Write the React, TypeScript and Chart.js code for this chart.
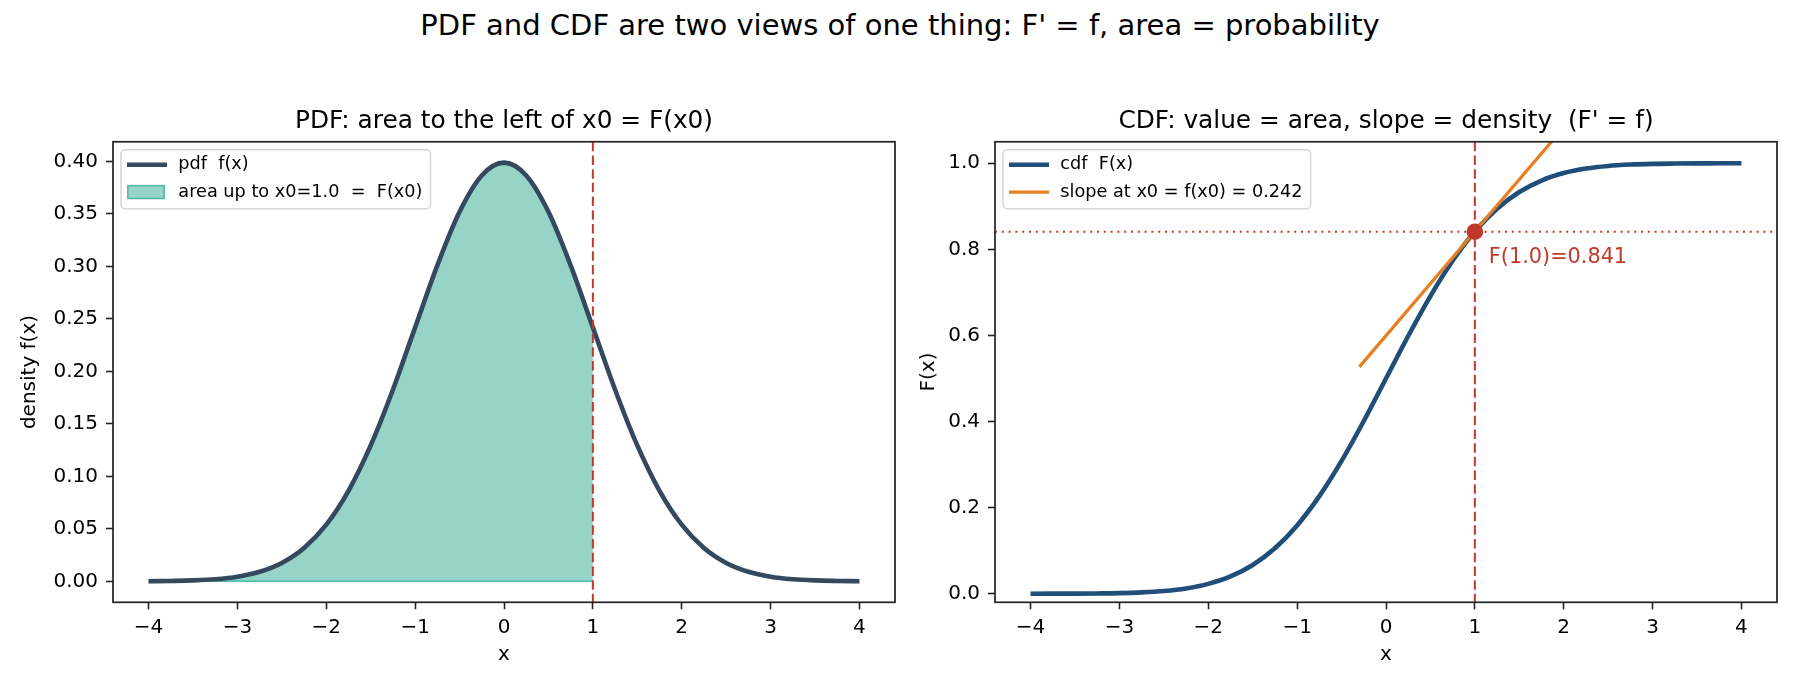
import React, { useEffect, useRef } from 'react';
import { Chart, registerables } from 'chart.js';

Chart.register(...registerables);

const FAMILY = '"DejaVu Sans", "Liberation Sans", sans-serif';

// ---------- data ----------
const SUPTITLE = "PDF and CDF are two views of one thing: F' = f, area = probability";
const PDF_TITLE = 'PDF: area to the left of x0 = F(x0)';
const CDF_TITLE = "CDF: value = area, slope = density  (F' = f)";

const X_GRID = [
  -4, -3.75, -3.5, -3.25, -3, -2.75, -2.5, -2.25, -2, -1.75, -1.5, -1.25, -1, -0.75, -0.5, -0.25,
  0, 0.25, 0.5, 0.75, 1, 1.25, 1.5, 1.75, 2, 2.25, 2.5, 2.75, 3, 3.25, 3.5, 3.75, 4,
];
const PDF_VALUES = [
  0.0001, 0.0004, 0.0009, 0.002, 0.0044, 0.0091, 0.0175, 0.0317, 0.054, 0.0863, 0.1295, 0.1826,
  0.242, 0.3011, 0.3521, 0.3867, 0.3989, 0.3867, 0.3521, 0.3011, 0.242, 0.1826, 0.1295, 0.0863,
  0.054, 0.0317, 0.0175, 0.0091, 0.0044, 0.002, 0.0009, 0.0004, 0.0001,
];
const CDF_VALUES = [
  0.0, 0.0001, 0.0002, 0.0006, 0.0013, 0.003, 0.0062, 0.0122, 0.0228, 0.0401, 0.0668, 0.1056,
  0.1587, 0.2266, 0.3085, 0.4013, 0.5, 0.5987, 0.6915, 0.7734, 0.8413, 0.8944, 0.9332, 0.9599,
  0.9772, 0.9878, 0.9938, 0.997, 0.9987, 0.9994, 0.9998, 0.9999, 1.0,
];
const X0 = 1.0;
const F_AT_X0 = 0.841;
const TANGENT_X = [-0.3, 2.3];
const TANGENT_Y = [0.527, 1.156];

const X_TICKS = [-4, -3, -2, -1, 0, 1, 2, 3, 4];
const PDF_Y_TICKS = [0, 0.05, 0.1, 0.15, 0.2, 0.25, 0.3, 0.35, 0.4];
const CDF_Y_TICKS = [0, 0.2, 0.4, 0.6, 0.8, 1.0];

const X_RANGE = [-4.4, 4.4];
const PDF_Y_RANGE = [-0.01995, 0.41882];
const CDF_Y_RANGE = [-0.02, 1.05];

const PDF_LEGEND = ['pdf  f(x)', 'area up to x0=1.0  =  F(x0)'];
const CDF_LEGEND = ['cdf  F(x)', 'slope at x0 = f(x0) = 0.242'];
const ANNOTATION = 'F(1.0)=0.841';

// ---------- styles ----------
const C_PDF = '#34495e';
const C_CDF = '#1f4e79';
const C_FILL = 'rgba(22,160,133,0.45)';
const C_FILL_EDGE = 'rgba(22,160,133,0.65)';
const C_RED = '#c0392b';
const C_ORANGE = '#e67e22';
const TICK_SIZE = 20;
const LEGEND_SIZE = 17.7;
const ANNOT_SIZE = 20.8;

function fmtX(v: number) {
  return v < 0 ? '\u2212' + Math.abs(v) : String(v);
}

function xScale() {
  return {
    type: 'linear',
    min: X_RANGE[0],
    max: X_RANGE[1],
    afterBuildTicks: (s: any) => {
      s.ticks = X_TICKS.map((v) => ({ value: v }));
    },
    afterFit: (s: any) => {
      s.height = 87.7;
    },
    ticks: {
      callback: (v: any) => fmtX(Number(v)),
      font: { family: FAMILY, size: TICK_SIZE },
      color: '#000',
      padding: 6,
      autoSkip: false,
      maxRotation: 0,
    },
    grid: { drawOnChartArea: false, drawTicks: true, tickLength: 7, tickColor: '#222', tickWidth: 1.6, color: '#222' },
    border: { display: false },
    title: { display: true, text: 'x', font: { family: FAMILY, size: TICK_SIZE }, color: '#000', padding: { top: 0, bottom: 23 } },
  };
}

function yScale(range: number[], ticks: number[], digits: number, width: number, label: string, titlePad: number) {
  return {
    type: 'linear',
    min: range[0],
    max: range[1],
    afterBuildTicks: (s: any) => {
      s.ticks = ticks.map((v) => ({ value: v }));
    },
    afterFit: (s: any) => {
      s.width = width;
    },
    ticks: {
      callback: (v: any) => Number(v).toFixed(digits),
      font: { family: FAMILY, size: TICK_SIZE },
      color: '#000',
      padding: 8,
      autoSkip: false,
    },
    grid: { drawOnChartArea: false, drawTicks: true, tickLength: 7, tickColor: '#222', tickWidth: 1.6, color: '#222' },
    border: { display: false },
    title: { display: true, text: label, font: { family: FAMILY, size: TICK_SIZE }, color: '#000', padding: { top: titlePad, bottom: 0 } },
  };
}

type LegendItem = { label: string; kind: 'line' | 'patch'; color: string; width?: number };

function drawLegend(ctx: CanvasRenderingContext2D, area: any, items: LegendItem[]) {
  ctx.save();
  ctx.font = `${LEGEND_SIZE}px ${FAMILY}`;
  const textW = Math.max(...items.map((i) => ctx.measureText(i.label).width));
  const bx = area.left + 8;
  const by = area.top + 8;
  const bw = 57.3 + textW + 8;
  const bh = 59;
  ctx.beginPath();
  (ctx as any).roundRect(bx, by, bw, bh, 4);
  ctx.fillStyle = 'rgba(255,255,255,0.85)';
  ctx.fill();
  ctx.lineWidth = 1.5;
  ctx.strokeStyle = '#d6d6d6';
  ctx.stroke();
  items.forEach((it, i) => {
    const cy = area.top + 23 + i * 27.3;
    if (it.kind === 'line') {
      ctx.beginPath();
      ctx.moveTo(area.left + 14, cy);
      ctx.lineTo(area.left + 54, cy);
      ctx.lineWidth = it.width || 2;
      ctx.strokeStyle = it.color;
      ctx.setLineDash([]);
      ctx.stroke();
    } else {
      ctx.fillStyle = it.color;
      ctx.fillRect(area.left + 14.7, cy - 6.5, 36.6, 13);
      ctx.lineWidth = 1.5;
      ctx.strokeStyle = C_FILL_EDGE;
      ctx.strokeRect(area.left + 14.7, cy - 6.5, 36.6, 13);
    }
    ctx.fillStyle = '#000';
    ctx.textBaseline = 'middle';
    ctx.textAlign = 'left';
    ctx.fillText(it.label, area.left + 65.3, cy);
  });
  ctx.restore();
}

function drawFrame(chart: any) {
  const { ctx, chartArea: a } = chart;
  ctx.save();
  ctx.lineWidth = 1.7;
  ctx.strokeStyle = '#222';
  ctx.setLineDash([]);
  ctx.strokeRect(a.left, a.top, a.right - a.left, a.bottom - a.top);
  ctx.restore();
}

function drawVLine(chart: any, xv: number) {
  const { ctx, chartArea: a, scales } = chart;
  const px = scales.x.getPixelForValue(xv);
  ctx.save();
  ctx.beginPath();
  ctx.setLineDash([9.5, 4.2]);
  ctx.lineWidth = 2;
  ctx.strokeStyle = C_RED;
  ctx.moveTo(px, a.top);
  ctx.lineTo(px, a.bottom);
  ctx.stroke();
  ctx.restore();
}

function drawHLine(chart: any, yv: number) {
  const { ctx, chartArea: a, scales } = chart;
  const py = scales.y.getPixelForValue(yv);
  ctx.save();
  ctx.beginPath();
  ctx.setLineDash([2, 4.8]);
  ctx.lineWidth = 2;
  ctx.strokeStyle = C_RED;
  ctx.moveTo(a.left, py);
  ctx.lineTo(a.right, py);
  ctx.stroke();
  ctx.restore();
}

function baseOptions(title: string, padRight: number, y: any) {
  return {
    responsive: false,
    maintainAspectRatio: false,
    animation: false,
    devicePixelRatio: 1,
    events: [],
    layout: { padding: { left: 0, right: padRight, top: 0, bottom: 0 } },
    plugins: {
      legend: { display: false },
      tooltip: { enabled: false },
      title: {
        display: true,
        fullSize: false,
        text: title,
        color: '#000',
        font: { family: FAMILY, size: 24.8, weight: 'normal' },
        padding: { top: 47, bottom: 5 },
      },
    },
    scales: { x: xScale(), y },
  };
}

function makeLeft(canvas: HTMLCanvasElement) {
  const pdfPts = X_GRID.map((x, i) => ({ x, y: PDF_VALUES[i] }));
  const fillPts = pdfPts.filter((p) => p.x <= X0);
  const basePts = [
    { x: X_GRID[0], y: 0 },
    { x: X0, y: 0 },
  ];
  return new Chart(canvas, {
    type: 'line',
    data: {
      datasets: [
        {
          data: pdfPts,
          borderColor: C_PDF,
          borderWidth: 4.6,
          pointRadius: 0,
          cubicInterpolationMode: 'monotone',
          fill: false,
          order: 1,
        },
        {
          data: fillPts,
          borderColor: C_FILL_EDGE,
          borderWidth: 1.5,
          backgroundColor: C_FILL,
          pointRadius: 0,
          cubicInterpolationMode: 'monotone',
          fill: 'origin',
          order: 3,
        },
        {
          data: basePts,
          borderColor: C_FILL_EDGE,
          borderWidth: 1.5,
          pointRadius: 0,
          fill: false,
          order: 2,
        },
      ],
    },
    options: baseOptions(PDF_TITLE, 25, yScale(PDF_Y_RANGE, PDF_Y_TICKS, 2, 113, 'density f(x)', 18)) as any,
    plugins: [
      {
        id: 'decorLeft',
        afterDatasetsDraw(chart: any) {
          drawVLine(chart, X0);
        },
        afterDraw(chart: any) {
          drawFrame(chart);
          drawLegend(chart.ctx, chart.chartArea, [
            { label: PDF_LEGEND[0], kind: 'line', color: C_PDF, width: 4.6 },
            { label: PDF_LEGEND[1], kind: 'patch', color: C_FILL },
          ]);
        },
      },
    ],
  } as any);
}

function makeRight(canvas: HTMLCanvasElement) {
  const cdfPts = X_GRID.map((x, i) => ({ x, y: CDF_VALUES[i] }));
  const tanPts = TANGENT_X.map((x, i) => ({ x, y: TANGENT_Y[i] }));
  return new Chart(canvas, {
    type: 'line',
    data: {
      datasets: [
        {
          data: cdfPts,
          borderColor: C_CDF,
          borderWidth: 4.6,
          pointRadius: 0,
          cubicInterpolationMode: 'monotone',
          fill: false,
          order: 3,
        },
        {
          data: tanPts,
          borderColor: C_ORANGE,
          borderWidth: 3.2,
          pointRadius: 0,
          fill: false,
          order: 2,
        },
        {
          data: [{ x: X0, y: F_AT_X0 }],
          showLine: false,
          pointRadius: 8.3,
          pointBackgroundColor: C_RED,
          pointBorderWidth: 0,
          borderColor: C_RED,
          order: 1,
        },
      ],
    },
    options: baseOptions(CDF_TITLE, 23, yScale(CDF_Y_RANGE, CDF_Y_TICKS, 1, 95, 'F(x)', 17)) as any,
    plugins: [
      {
        id: 'decorRight',
        beforeDatasetsDraw(chart: any) {
          drawHLine(chart, F_AT_X0);
          drawVLine(chart, X0);
        },
        afterDraw(chart: any) {
          drawFrame(chart);
          drawLegend(chart.ctx, chart.chartArea, [
            { label: CDF_LEGEND[0], kind: 'line', color: C_CDF, width: 4.6 },
            { label: CDF_LEGEND[1], kind: 'line', color: C_ORANGE, width: 3.2 },
          ]);
          const { ctx, scales } = chart;
          const px = scales.x.getPixelForValue(X0);
          const py = scales.y.getPixelForValue(F_AT_X0);
          ctx.save();
          ctx.font = `${ANNOT_SIZE}px ${FAMILY}`;
          ctx.fillStyle = C_RED;
          ctx.textAlign = 'left';
          ctx.textBaseline = 'alphabetic';
          ctx.fillText(ANNOTATION, px + 14, py + 31);
          ctx.restore();
        },
      },
    ],
  } as any);
}

export default function App() {
  const leftRef = useRef<HTMLCanvasElement>(null);
  const rightRef = useRef<HTMLCanvasElement>(null);
  useEffect(() => {
    Chart.defaults.font.family = FAMILY;
    const charts = [makeLeft(leftRef.current!), makeRight(rightRef.current!)];
    return () => charts.forEach((c) => c.destroy());
  }, []);
  return (
    <div style={{ position: 'absolute', left: 0, top: 0, width: 1800, height: 690, background: '#fff', overflow: 'hidden' }}>
      <div
        style={{
          position: 'absolute',
          left: 0,
          top: 10.5,
          width: 1800,
          textAlign: 'center',
          fontFamily: FAMILY,
          fontSize: 29,
          lineHeight: '29px',
          color: '#000',
          whiteSpace: 'pre',
        }}
      >
        {SUPTITLE}
      </div>
      <canvas ref={leftRef} width={920} height={630} style={{ position: 'absolute', left: 0, top: 60, width: 920, height: 630 }} />
      <canvas ref={rightRef} width={900} height={630} style={{ position: 'absolute', left: 900, top: 60, width: 900, height: 630 }} />
    </div>
  );
}
